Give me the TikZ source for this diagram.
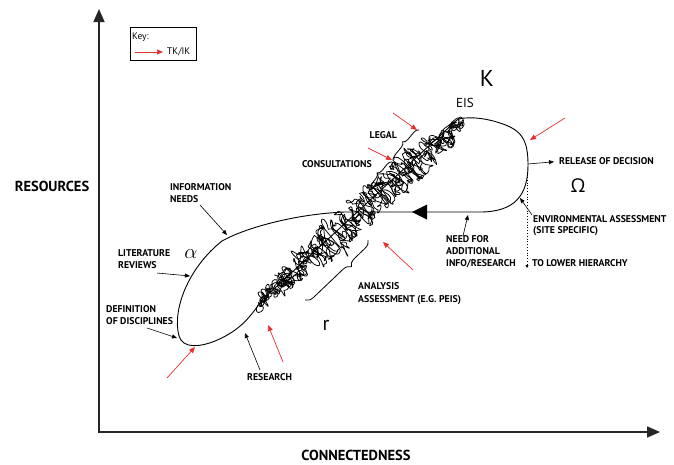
\documentclass[tikz,border=0pt]{standalone}
\usepackage{fontspec}
\setmainfont{PT Sans}
\newfontfamily\greekfont{Open Sans}
\usepackage{tikz}
\usetikzlibrary{arrows.meta,decorations.pathreplacing}

\definecolor{tkred}{RGB}{232,48,48}

\tikzset{
    lbl/.style={font=\bfseries\fontsize{9.8}{12}\selectfont, align=left, inner sep=0pt, anchor=north west},
    blkarrow/.style={-{Triangle[length=5pt,width=4pt]}, line width=0.6pt},
    redarrow/.style={-{Triangle[length=6pt,width=5pt]}, tkred, line width=0.7pt},
    axis/.style={line width=1.6pt, black!85, -{Triangle[length=13pt,width=11pt]}},
    curly/.style={decorate, decoration={brace, amplitude=5pt}, line width=0.8pt},
    scribble/.style={line width=0.75pt, line join=round, line cap=round},
    loopline/.style={line width=0.9pt},
    axislabel/.style={font=\bfseries\fontsize{14.5}{16}\selectfont},
}

\begin{document}
\begin{tikzpicture}[x=1pt,y=-1pt]
    \useasboundingbox (0,0) rectangle (674,464);

    % Axes:
    \coordinate (origin) at (99,432);
    \coordinate (ytop)   at (99,9);
    \coordinate (xend)   at (660,432);
    \draw [axis] (origin) -- (ytop);
    \draw [axis] ([xshift=-0.8pt]origin) -- (xend);
    \node [axislabel] (resources) at (52,186) {RESOURCES};
    \node [axislabel] (connectedness) at (356,455) {CONNECTEDNESS};

    % Key:
    \node [draw, line width=0.5pt, minimum width=66pt, minimum height=33pt, anchor=north west] (keybox) at (130,27) {};
    \node [font=\fontsize{9.5}{11}\selectfont, anchor=west, inner sep=0pt] (keytitle) at (132,37) {Key:};
    \node [font=\fontsize{9.5}{11}\selectfont, anchor=west, inner sep=0pt] (keytk) at (167,52) {TK/IK};
    \coordinate (keyfrom) at (135,52);
    \draw [redarrow] (keyfrom) -- ([xshift=-4pt]keytk.west);

    % The loop (figure eight):
    \draw [loopline] (262,300)
        .. controls (252,314) and (242,330) .. (215,341)
        .. controls (200,347) and (183,349) .. (179,336)
        .. controls (172,310) and (188,268) .. (222,241)
        .. controls (245,228) and (295,214) .. (345,212)
        -- (480,212)
        .. controls (515,212) and (528,195) .. (528,165)
        .. controls (528,140) and (522,130) .. (500,123)
        .. controls (488,119) and (472,116) .. (458,119)
        -- cycle;
    % Big arrowhead on the way back:
    \coordinate (backtip) at (412,212);
    \fill (backtip) -- ++(15,-7.5) -- ++(0,15) -- cycle;

    % Scribbles along the diagonal:
    \pgfmathsetseed{42}
    \xdef\lastx{258}\xdef\lasty{305}
    \foreach \i in {1,...,150}{%
        \pgfmathsetmacro\tt{\i/150}
        \pgfmathsetmacro\off{(2*rnd-1)*(3+13*min(1,min(3*\tt,6*(1-\tt))))}
        \pgfmathsetmacro\nx{258+202*\tt+0.682*\off}
        \pgfmathsetmacro\ny{305-182*\tt+0.731*\off}
        \pgfmathsetmacro\aa{360*rnd}
        \pgfmathsetmacro\bb{360*rnd}
        \pgfmathsetmacro\dd{7+10*rnd}
        \draw [scribble] (\lastx,\lasty) .. controls +(\aa:\dd) and +(\bb:\dd) .. (\nx,\ny);
        \xdef\lastx{\nx}\xdef\lasty{\ny}
    }
    \pgfmathsetseed{7}
    \xdef\lastx{262}\xdef\lasty{300}
    \foreach \i in {1,...,130}{%
        \pgfmathsetmacro\tt{\i/130}
        \pgfmathsetmacro\off{(2*rnd-1)*(2+13*min(1,min(3*\tt,6*(1-\tt))))}
        \pgfmathsetmacro\nx{262+200*\tt+0.682*\off}
        \pgfmathsetmacro\ny{300-178*\tt+0.731*\off}
        \pgfmathsetmacro\aa{360*rnd}
        \pgfmathsetmacro\bb{360*rnd}
        \pgfmathsetmacro\dd{6+10*rnd}
        \draw [scribble] (\lastx,\lasty) .. controls +(\aa:\dd) and +(\bb:\dd) .. (\nx,\ny);
        \xdef\lastx{\nx}\xdef\lasty{\ny}
    }

    % Braces:
    \draw [curly] (394,160) -- (419,130);
    \draw [curly] (370,190) -- (392,162);
    \draw [curly, decoration={brace, amplitude=8pt, mirror, aspect=0.65}] (305,300) -- (368,240);

    % Greek letters and phase names:
    \node [font=\fontsize{23}{24}\selectfont] (kphase) at (487,78) {K};
    \node [font=\fontsize{13}{14}\selectfont] (eis) at (465,103) {EIS};
    \node [font=\greekfont\fontsize{19}{20}\selectfont] (omega) at (578,186) {Ω};
    \node [font=\fontsize{20}{22}\selectfont] (alpha) at (191,254) {$\alpha$};
    \node [font=\fontsize{20}{22}\selectfont] (rphase) at (326,325) {r};

    % Labels:
    \node [lbl] (infoneeds)   at (170,183) {INFORMATION\\NEEDS};
    \node [lbl] (litreviews)  at (118,249) {LITERATURE\\REVIEWS};
    \node [lbl] (disciplines) at (106,305) {DEFINITION\\OF DISCIPLINES};
    \node [lbl] (research)    at (247,373) {RESEARCH};
    \node [lbl, font=\bfseries\fontsize{9.8}{13}\selectfont] (analysis) at (358,282) {ANALYSIS\\ASSESSMENT (E.G. PEIS)};
    \node [lbl] (addinfo)     at (446,235) {NEED FOR\\ADDITIONAL\\INFO/RESEARCH};
    \node [lbl] (lower)       at (532,259) {TO LOWER HIERARCHY};
    \node [lbl, font=\bfseries\fontsize{9.8}{11.5}\selectfont] (envassess) at (533,215) {ENVIRONMENTAL ASSESSMENT\\(SITE SPECIFIC)};
    \node [lbl] (release)     at (559,157) {RELEASE OF DECISION};
    \node [lbl, anchor=north east] (legal) at (397,131) {LEGAL};
    \node [lbl, anchor=north east] (consult) at (372,160) {CONSULTATIONS};

    % Black arrows:
    \coordinate (needstip)   at (227,235);
    \coordinate (reviewstip) at (190,276);
    \coordinate (disctip)    at (177,338);
    \coordinate (researchtip) at (245,333);
    \coordinate (releasefrom) at (528,164);
    \coordinate (envtip)     at (520,198);
    \coordinate (addtip)     at (468,215);
    \coordinate (dotfrom)    at (527,177);
    \coordinate (dotto)      at (527,268);
    \draw [blkarrow] (200,205) -- (needstip);
    \draw [blkarrow] (157,273) -- (reviewstip);
    \draw [blkarrow] (147,328) -- (disctip);
    \draw [blkarrow] (260,370) -- (researchtip);
    \draw [blkarrow] (releasefrom) -- ([xshift=-5pt,yshift=-1pt]release.west);
    \draw [blkarrow] (532,215) -- (envtip);
    \draw [blkarrow] (463,236) -- (addtip);
    \draw [dotted, line width=0.8pt, -{Triangle[length=3pt,width=3pt]}] (dotfrom) -- (dotto);

    % Red arrows (TK/IK):
    \foreach \fx/\fy/\tx/\ty in {393/113/417/130, 368/148/392/160, 565/118/530/140,
                                 413/270/383/242, 283/362/268/325, 167/378/195/347}{%
        \draw [redarrow] (\fx,\fy) -- (\tx,\ty);
    }
\end{tikzpicture}
\end{document}
